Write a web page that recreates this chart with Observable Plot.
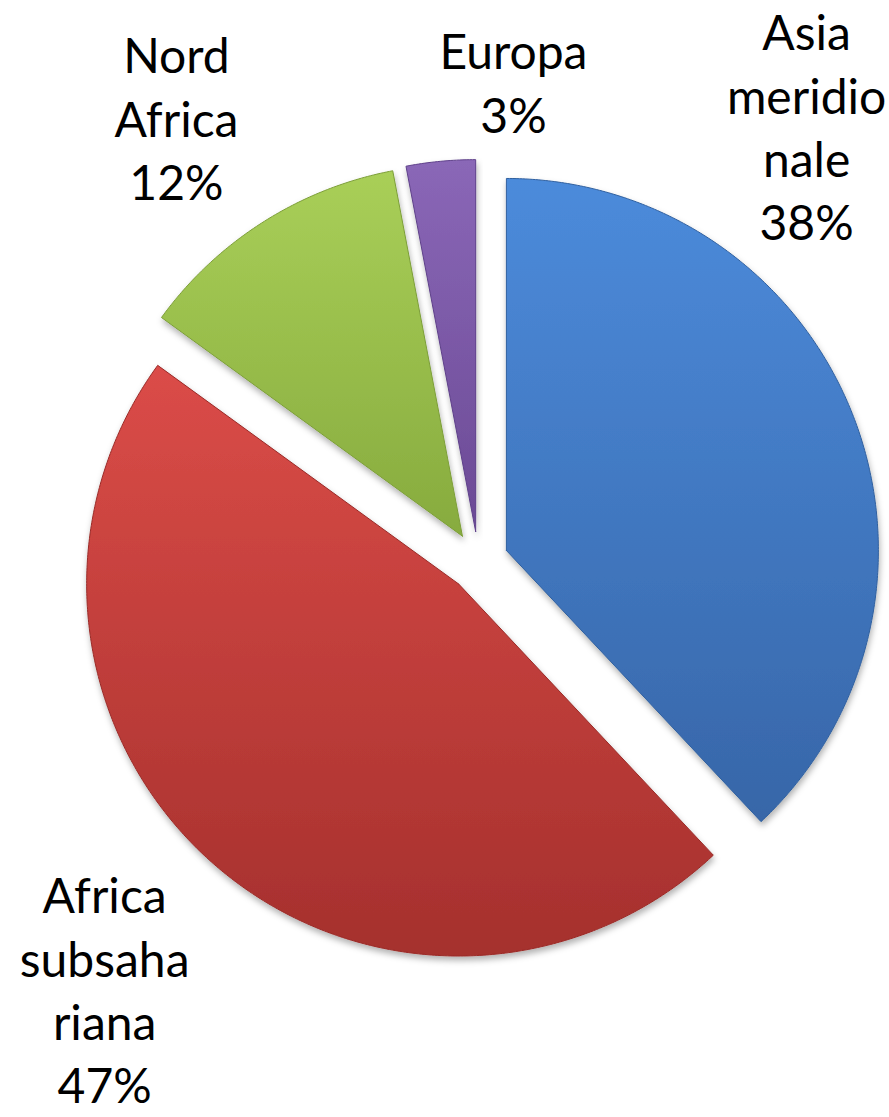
<!DOCTYPE html>
<html><head><meta charset="utf-8">
<script src="https://cdn.jsdelivr.net/npm/d3@7"></script>
<script src="https://cdn.jsdelivr.net/npm/@observablehq/plot@0.6"></script>
<style>html,body{margin:0;padding:0;background:#fff}</style>
</head><body><div id="chart"></div>
<script>
// ---- data ----
const regions = ["Asia meridionale", "Africa subsahariana", "Nord Africa", "Europa"];
const shares = [38, 47, 12, 3];
const labelNames = ["Asia\nmeridio\nnale", "Africa\nsubsaha\nriana", "Nord\nAfrica", "Europa"];

// ---- layout / style ----
const W = 889, H = 1117, CX = 478, CY = 561, R = 372, EXPLODE = 30 / R;
const gradTop = ["#4C8BDB", "#DB4C48", "#A9CF58", "#8A67B7"];
const gradBottom = ["#3766A8", "#A5302D", "#87AB3E", "#6B4A95"];
const edge = ["#30609F", "#9A2B28", "#7C9E38", "#5F418A"];
// label anchor (pie units, top of first line)
const labelPos = [[0.882, 1.495], [-1.005, -0.825], [-0.812, 1.433], [0.094, 1.444]];

const arcs = d3.pie().sort(null).value(d => d)(shares);
const slices = arcs.map((a, i) => {
  const mid = (a.startAngle + a.endAngle) / 2;
  const ox = EXPLODE * Math.sin(mid), oy = EXPLODE * Math.cos(mid);
  const pts = [{x: ox, y: oy, region: regions[i]}];
  const n = Math.max(4, Math.ceil((a.endAngle - a.startAngle) / (Math.PI / 360)));
  for (let k = 0; k <= n; k++) {
    const t = a.startAngle + (a.endAngle - a.startAngle) * k / n;
    pts.push({x: ox + Math.sin(t), y: oy + Math.cos(t), region: regions[i]});
  }
  pts.push({x: ox, y: oy, region: regions[i]});
  return pts;
});

const labels = regions.map((r, i) => ({
  region: r,
  text: `${labelNames[i]}\n${shares[i]}%`,
  x: labelPos[i][0], y: labelPos[i][1]
}));

const plot = Plot.plot({
  width: W, height: H, margin: 0,
  x: {domain: [-CX / R, (W - CX) / R], axis: null},
  y: {domain: [-(H - CY) / R, CY / R], axis: null},
  style: {background: "#fff"},
  marks: [
    ...slices.map((pts, i) => Plot.line(pts, {
      x: "x", y: "y", fill: `url(#grad${i})`, stroke: edge[i], strokeWidth: 1, strokeLinejoin: "round"
    })),
    Plot.text(labels, {
      x: "x", y: "y", text: "text", fontSize: 48, lineHeight: 1.32, lineAnchor: "top",
      textAnchor: "middle", fill: "#000", fontFamily: "Lato, 'Open Sans', sans-serif"
    })
  ]
});

const ns = "http://www.w3.org/2000/svg";
const defs = document.createElementNS(ns, "defs");
gradTop.forEach((c, i) => {
  const g = document.createElementNS(ns, "linearGradient");
  g.setAttribute("id", `grad${i}`);
  g.setAttribute("x1", "0"); g.setAttribute("y1", "0");
  g.setAttribute("x2", "0"); g.setAttribute("y2", "1");
  [[0, c], [1, gradBottom[i]]].forEach(([o, col]) => {
    const s = document.createElementNS(ns, "stop");
    s.setAttribute("offset", o); s.setAttribute("stop-color", col);
    g.appendChild(s);
  });
  defs.appendChild(g);
});
const f = document.createElementNS(ns, "filter");
f.setAttribute("id", "shadow");
f.setAttribute("x", "-10%"); f.setAttribute("y", "-10%");
f.setAttribute("width", "120%"); f.setAttribute("height", "120%");
const ds = document.createElementNS(ns, "feDropShadow");
ds.setAttribute("dx", "1"); ds.setAttribute("dy", "4");
ds.setAttribute("stdDeviation", "3"); ds.setAttribute("flood-color", "#000");
ds.setAttribute("flood-opacity", "0.3");
f.appendChild(ds);
defs.appendChild(f);
plot.insertBefore(defs, plot.firstChild);
plot.querySelectorAll('g[aria-label="line"]').forEach(g => g.setAttribute("filter", "url(#shadow)"));

document.getElementById("chart").appendChild(plot);
</script>
</body></html>
